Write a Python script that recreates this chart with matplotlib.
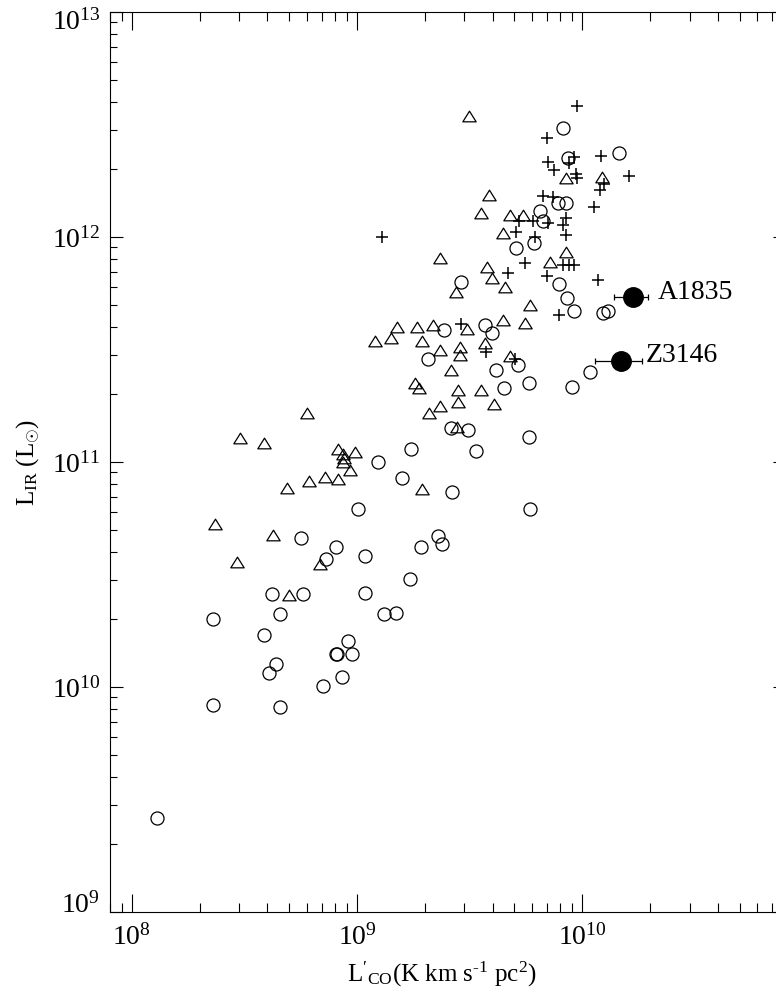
import numpy as np
import matplotlib
matplotlib.use("Agg")
import matplotlib.pyplot as plt
import matplotlib.transforms as mtransforms
from matplotlib.path import Path
from matplotlib.ticker import LogLocator, LogFormatterMathtext, NullFormatter

plt.rcParams['font.family'] = ['Liberation Serif', 'DejaVu Serif']
plt.rcParams['mathtext.fontset'] = 'custom'
plt.rcParams['mathtext.rm'] = 'Liberation Serif'
plt.rcParams['mathtext.it'] = 'Liberation Serif:italic'
plt.rcParams['mathtext.bf'] = 'Liberation Serif:bold'

# log10 values
circ_lco = [8.111, 8.360, 8.660, 8.849, 8.933, 8.611, 8.642, 8.905, 8.912, 8.976,
            8.962, 8.588, 8.360, 8.660, 9.120, 9.175, 8.621, 8.760, 9.037, 9.234,
            8.863, 9.034, 8.907, 8.753, 9.006, 9.095, 9.199, 9.284, 9.360, 9.378,
            9.768, 9.424, 9.529, 9.240, 9.766, 9.416, 9.493, 9.651, 9.764, 9.956,
            9.619, 10.034, 9.314, 9.714, 9.387, 9.568, 9.600, 9.965, 10.093, 10.116,
            9.931, 9.896, 9.461, 9.705, 9.788, 9.812, 9.824, 9.891, 9.928, 9.938,
            9.913, 10.164]
circ_lir = [9.416, 9.920, 9.910, 10.004, 10.043, 10.061, 10.101, 10.147, 10.147, 10.147,
            10.204, 10.230, 10.301, 10.323, 10.323, 10.330, 10.415, 10.415, 10.416, 10.479,
            10.567, 10.581, 10.624, 10.664, 10.792, 11.000, 10.930, 10.624, 10.672, 10.634,
            10.792, 10.868, 11.050, 11.056, 11.112, 11.150, 11.142, 11.330, 11.352, 11.333,
            11.410, 11.401, 11.456, 11.431, 11.587, 11.609, 11.573, 11.669, 11.662, 11.671,
            11.729, 11.790, 11.799, 11.952, 11.972, 12.116, 12.072, 12.150, 12.152, 12.350,
            12.483, 12.372]

tri_lco = [9.498, 9.587, 9.551, 9.679, 9.738, 9.649, 9.928, 10.089, 9.928, 9.369,
           9.859, 9.578, 9.598, 9.657, 9.439, 9.769, 9.649, 9.748, 9.179, 9.268,
           9.336, 9.490, 9.150, 9.289, 9.079, 9.570, 9.368, 9.459, 9.458, 9.679,
           9.418, 9.256, 9.276, 9.449, 9.549, 9.449, 9.608, 9.368, 9.319, 9.446,
           9.288, 8.778, 8.479, 8.587, 8.917, 8.938, 8.941, 8.938, 8.990, 8.968,
           8.858, 8.917, 8.787, 8.688, 8.369, 8.627, 8.468, 8.837, 8.698]
tri_lir = [12.538, 12.187, 12.108, 12.098, 12.098, 12.016, 12.261, 12.268, 11.935, 11.908,
           11.888, 11.868, 11.816, 11.776, 11.757, 11.698, 11.629, 11.619, 11.598, 11.598,
           11.607, 11.589, 11.549, 11.540, 11.536, 11.528, 11.500, 11.509, 11.476, 11.469,
           11.409, 11.350, 11.329, 11.320, 11.320, 11.268, 11.258, 11.249, 11.216, 11.157,
           10.879, 11.216, 11.108, 11.086, 11.056, 11.036, 11.018, 11.000, 11.046, 10.964,
           10.935, 10.923, 10.917, 10.886, 10.726, 10.676, 10.556, 10.547, 10.409]

plus_lco = [9.978, 9.843, 10.085, 9.964, 9.942, 9.849, 9.874, 9.973, 9.978, 10.099,
            10.079, 10.207, 9.824, 9.871, 10.053, 9.718, 9.780, 9.849, 9.929, 9.913,
            9.708, 9.928, 9.790, 9.113, 9.747, 9.916, 9.942, 9.962, 9.671, 9.842,
            10.072, 9.896, 9.461, 9.575, 9.700]
plus_lir = [12.582, 12.439, 12.360, 12.354, 12.328, 12.335, 12.298, 12.278, 12.261, 12.234,
            12.209, 12.272, 12.182, 12.176, 12.132, 12.072, 12.072, 12.064, 12.084, 12.053,
            12.024, 12.009, 12.001, 12.001, 11.883, 11.876, 11.876, 11.876, 11.841, 11.828,
            11.809, 11.653, 11.615, 11.489, 11.458]

cl_names = ['A1835', 'Z3146']
cl_lco = [1.68e10, 1.49e10]
cl_lco_err = [2.9e9, 3.45e9]
cl_lir = [5.4e11, 2.81e11]

fig = plt.figure(figsize=(7.76, 9.92), dpi=100)
ax = fig.add_axes([110/776, 80/992, 675.5/776, 900/992])

tri = Path([(0, 0.8), (-1, -0.8), (1, -0.8), (0, 0.8)],
           [Path.MOVETO, Path.LINETO, Path.LINETO, Path.CLOSEPOLY])

ax.plot(10**np.array(circ_lco), 10**np.array(circ_lir), 'o', ms=9.4, mfc='none',
        mec='black', mew=0.9, ls='none')
ax.plot(10**np.array(tri_lco), 10**np.array(tri_lir), marker=tri, ms=9.6, mfc='none',
        mec='black', mew=0.9, ls='none')
ax.plot(10**np.array(plus_lco), 10**np.array(plus_lir), '+', ms=9, mec='black',
        mew=1.1, ls='none')
ax.errorbar(cl_lco, cl_lir, xerr=cl_lco_err, fmt='o', ms=14, mfc='black', mec='black',
            ecolor='black', elinewidth=0.9, capsize=2.5, capthick=0.9)
for name, x, y in zip(cl_names, cl_lco, cl_lir):
    ax.annotate(name, (x, y), xytext=(18, -1), textcoords='offset points',
                va='baseline', ha='left', fontsize=20)

ax.set_xscale('log')
ax.set_yscale('log')
ax.set_xlim(8e7, 8e10)
ax.set_ylim(1e9, 1e13)

for axis in (ax.xaxis, ax.yaxis):
    axis.set_major_locator(LogLocator(base=10))
    axis.set_minor_locator(LogLocator(base=10, subs=np.arange(2, 10)))
    axis.set_major_formatter(LogFormatterMathtext())
    axis.set_minor_formatter(NullFormatter())

ax.tick_params(axis='x', which='major', direction='in', top=True, length=13, width=0.8,
               labelsize=20, pad=9)
ax.tick_params(axis='x', which='minor', direction='in', top=True, length=6.5, width=0.8)
ax.tick_params(axis='y', which='major', direction='in', right=True, length=9.7, width=0.8,
               labelsize=20, pad=7)
ax.tick_params(axis='y', which='minor', direction='in', right=True, length=5, width=0.8)
for s in ax.spines.values():
    s.set_linewidth(0.8)

# nudge the end labels on the y axis (top one down, bottom one up)
fig.canvas.draw()
ylabs = ax.get_yticklabels()
for lab in ylabs:
    txt = lab.get_text()
    if '13' in txt:
        lab.set_transform(lab.get_transform() + mtransforms.ScaledTranslation(0, -5/72, fig.dpi_scale_trans))
    elif '{9}' in txt:
        lab.set_transform(lab.get_transform() + mtransforms.ScaledTranslation(0, 7/72, fig.dpi_scale_trans))

ax.set_xlabel(r"$\mathrm{L}'_{\mathrm{CO}}$(K km s$^{\text{-1}}$ pc$^{\mathrm{2}}$)", fontsize=18)
ax.set_ylabel(r"L$_{\mathrm{IR}}$ (L$_{\odot}$)", fontsize=18)
ax.xaxis.set_label_coords(0.4915, -0.053)
ax.yaxis.set_label_coords(-0.102, 0.5)

fig.savefig('out.png', dpi=100)
